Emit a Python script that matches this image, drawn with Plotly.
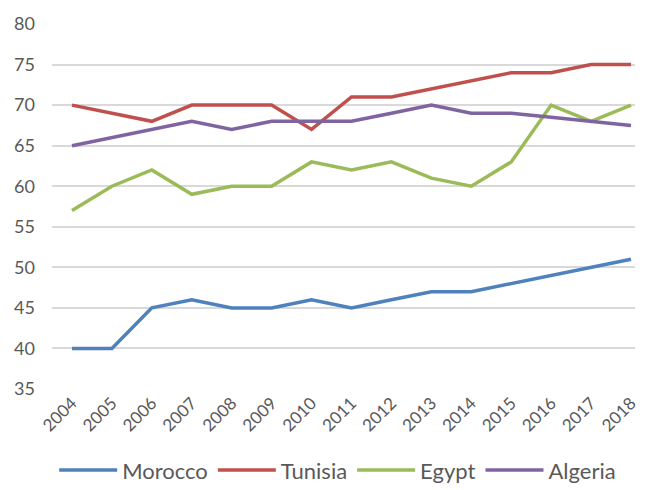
import plotly.graph_objects as go

years = [str(y) for y in range(2004, 2019)]

morocco = [40, 40, 45, 46, 45, 45, 46, 45, 46, 47, 47, 48, 49, 50, 51]
tunisia = [70, 69, 68, 70, 70, 70, 67, 71, 71, 72, 73, 74, 74, 75, 75]
egypt = [57, 60, 62, 59, 60, 60, 63, 62, 63, 61, 60, 63, 70, 68, 70]
algeria = [65, 66, 67, 68, 67, 68, 68, 68, 69, 70, 69, 69, 68.5, 68, 67.5]

series = [
    ("Morocco", morocco, "#4F81BD"),
    ("Tunisia", tunisia, "#C0504D"),
    ("Egypt", egypt, "#9BBB59"),
    ("Algeria", algeria, "#8064A2"),
]

fig = go.Figure()
for name, vals, color in series:
    fig.add_trace(go.Scatter(
        x=years, y=vals, name=name, mode="lines",
        line=dict(color=color, width=3.5),
    ))

# page body has an 8px margin, so the figure is sized to fit the window
fig.update_layout(
    width=640, height=482,
    margin=dict(l=44, r=13, t=16, b=101, autoexpand=False),
    plot_bgcolor="white", paper_bgcolor="white",
    font=dict(family="Lato, Liberation Sans, sans-serif", color="#595959", size=17),
    showlegend=True,
    legend=dict(orientation="h", x=0.49, xanchor="center", y=-0.165, yanchor="top",
                font=dict(size=22), itemwidth=58, tracegroupgap=0),
)
fig.update_xaxes(
    type="category", range=[-0.5, 14.1], tickangle=-45,
    showgrid=False, showline=False, ticks="", automargin=False,
    tickfont=dict(size=17),
)
fig.update_yaxes(
    range=[35, 80], dtick=5, showgrid=True, gridcolor="#D9D9D9", gridwidth=1.5,
    zeroline=False, showline=False, ticks="", ticklabelstandoff=16, automargin=False,
    tickfont=dict(size=18),
)

fig.write_html("out.html")
